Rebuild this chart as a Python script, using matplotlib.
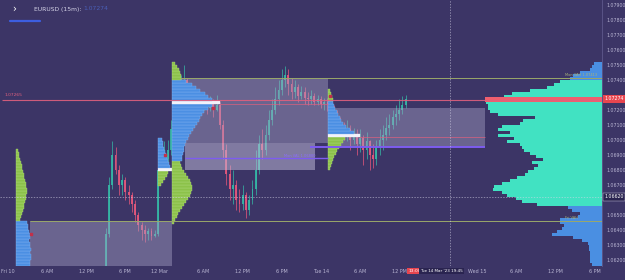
import numpy as np
import matplotlib.pyplot as plt
from matplotlib.patches import Rectangle

# 30-minute bars, hours counted from Fri 10 00:00 (weekend gap removed)
bar_hours = np.arange(15.0, 61.01, 0.5)
first_open = 1.0613
closes = [1.0637, 1.0670, 1.0690, 1.0680, 1.0670, 1.0673, 1.0665, 1.0663, 1.0657, 1.0650,
          1.0643, 1.0640, 1.0637, 1.0639, 1.0636, 1.0637,
          1.0680, 1.0683, 1.0687, 1.0693, 1.0707, 1.0720, 1.0727, 1.0733, 1.0740, 1.0730,
          1.0727, 1.0725, 1.0727, 1.0723, 1.0725, 1.0721, 1.0724, 1.0720, 1.0723, 1.0710,
          1.0693, 1.0677, 1.0667, 1.0670, 1.0660, 1.0657, 1.0663, 1.0653, 1.0660, 1.0667,
          1.0680, 1.0697, 1.0693, 1.0703, 1.0713, 1.0720, 1.0727, 1.0733, 1.0740, 1.0743,
          1.0737, 1.0732, 1.0735, 1.0729, 1.0732, 1.0728, 1.0727, 1.0729, 1.0725, 1.0727,
          1.0724, 1.0725,
          1.0723, 1.0720, 1.0717, 1.0710, 1.0707, 1.0703, 1.0707, 1.0700, 1.0703, 1.0697,
          1.0701, 1.0693, 1.0699, 1.0690, 1.0687, 1.0695, 1.0700, 1.0703, 1.0708, 1.0710,
          1.0715, 1.0717, 1.0720, 1.0723, 1.07274]
highs = [1.0641, 1.0675, 1.0699, 1.0695, 1.0683, 1.0677, 1.0675, 1.0670, 1.0665, 1.0660,
         1.0652, 1.0645, 1.0643, 1.0641, 1.0641, 1.0640,
         1.0693, 1.0697, 1.0699, 1.0700, 1.0713, 1.0730, 1.0737, 1.0743, 1.0750, 1.0741,
         1.0733, 1.0730, 1.0732, 1.0729, 1.0729, 1.0728, 1.0729, 1.0727, 1.0730, 1.0725,
         1.0713, 1.0697, 1.0683, 1.0680, 1.0673, 1.0667, 1.0670, 1.0665, 1.0663, 1.0673,
         1.0693, 1.0703, 1.0707, 1.0710, 1.0720, 1.0727, 1.0735, 1.0740, 1.0747, 1.0749,
         1.0747, 1.0741, 1.0740, 1.0737, 1.0736, 1.0735, 1.0732, 1.0733, 1.0731, 1.0730,
         1.0729, 1.0728,
         1.0728, 1.0727, 1.0723, 1.0720, 1.0715, 1.0712, 1.0713, 1.0710, 1.0708, 1.0707,
         1.0707, 1.0703, 1.0705, 1.0700, 1.0697, 1.0700, 1.0707, 1.0710, 1.0715, 1.0717,
         1.0720, 1.0723, 1.0727, 1.0729, 1.0730]
lows = [1.0613, 1.0635, 1.0667, 1.0677, 1.0663, 1.0663, 1.0660, 1.0657, 1.0652, 1.0645,
        1.0639, 1.0633, 1.0632, 1.0633, 1.0633, 1.0635,
        1.0636, 1.0675, 1.0679, 1.0683, 1.0690, 1.0703, 1.0717, 1.0723, 1.0730, 1.0727,
        1.0721, 1.0720, 1.0721, 1.0719, 1.0720, 1.0717, 1.0719, 1.0715, 1.0719, 1.0707,
        1.0687, 1.0670, 1.0660, 1.0657, 1.0653, 1.0652, 1.0653, 1.0648, 1.0650, 1.0657,
        1.0663, 1.0677, 1.0687, 1.0690, 1.0700, 1.0710, 1.0717, 1.0723, 1.0730, 1.0735,
        1.0730, 1.0727, 1.0728, 1.0725, 1.0727, 1.0724, 1.0723, 1.0724, 1.0723, 1.0723,
        1.0721, 1.0720,
        1.0719, 1.0715, 1.0710, 1.0705, 1.0701, 1.0700, 1.0699, 1.0693, 1.0697, 1.0690,
        1.0692, 1.0683, 1.0687, 1.0680, 1.0681, 1.0683, 1.0690, 1.0693, 1.0700, 1.0703,
        1.0707, 1.0710, 1.0713, 1.0717, 1.0721]

# session volume profiles (price rows of 0.0002)
BIN = 0.0002
fri_start, fri_base = 1.2, 1.0617
fri_vols = [14, 14, 15, 15, 14, 15, 14, 14, 13, 14, 14, 13, 12, 12, 11,
            4, 5, 6, 7, 8, 8, 9, 10, 10, 11, 11, 10, 10, 9, 8, 8, 7, 6, 6, 5, 4, 3, 3, 2]
fri_va, fri_poc = (0, 14), None

sun_start, sun_base = 23.0, 1.0670
sun_vols = [3, 5, 7, 9, 10, 14, 12, 11, 10, 9, 8, 7, 6, 5, 5, 4]
sun_va, sun_poc = (5, 15), 5

mon_start, mon_base = 25.15, 1.0645
mon_vols = [2, 3, 5, 6, 8, 10, 12, 14, 16, 18, 19, 20, 20, 19, 18, 16, 14, 12, 10, 9, 8,
            10, 10, 11, 12, 12, 13, 14, 16, 17, 19, 21, 23, 25, 27, 28, 30, 32, 36, 40, 48,
            40, 36, 33, 28, 24, 20, 14,
            9, 9, 8, 7, 5, 3]
mon_va, mon_poc = (21, 47), 40

tue_start, tue_base = 49.1, 1.0681
tue_vols = [2, 3, 4, 5, 6, 8, 9, 11, 13, 15, 17, 32, 26, 22, 18, 15, 13, 12, 10, 9, 7, 6, 5,
            5, 4, 3, 2]
tue_va, tue_poc = (11, 22), 11

# composite profile, anchored on the price axis
comp_base = 1.0617
comp_vols = [10, 12, 12, 12, 12, 13, 13, 14, 20, 29, 50, 45, 40, 38, 42, 42, 24, 22, 30, 34,
             65, 80, 86, 95, 100, 109, 108, 100, 92, 85, 77, 74, 68, 64, 70, 59, 66, 72, 78, 80,
             82, 95, 88, 104, 92, 104, 100, 82, 79, 67, 104, 112, 114, 114, 116, 117, 98, 90, 72, 55,
             48, 42,
             32, 29, 22, 12, 10, 8]
comp_va, comp_poc = (20, 61), 55

# levels
last_price = 1.07274
red_level = 1.07265
fri_vah = 1.0646
mon_vah, mon_box_low = 1.07413, 1.0698
ib_low, ib_high = 1.0680, 1.0698
mon_val = 1.0688
mon_poc_price = 1.0724
tue_box_low, tue_box_high = 1.06953, 1.07213
tue_poc_price = 1.0702
cross_price, cross_hour = 1.06620, 67.75

tick_hours = [0, 6, 12, 18, 23.3, 30, 36, 42, 48, 54, 60, 72, 78, 84, 90]
tick_labels = ['Fri 10', '6 AM', '12 PM', '6 PM', '12 Mar', '6 AM', '12 PM', '6 PM',
               'Tue 14', '6 AM', '12 PM', 'Wed 15', '6 AM', '12 PM', '6 PM']
price_ticks = [1.062, 1.063, 1.064, 1.065, 1.067, 1.068, 1.069, 1.070, 1.071, 1.072,
               1.074, 1.075, 1.076, 1.077, 1.078, 1.079]

BG = '#3c3566'
TXT = '#b9b5d3'
UP, DOWN = '#35b8a6', '#e8587c'
BLUE, GREEN, WHITE = '#4b8fe3', '#8cc24a', '#f2f2fa'
CYAN, CBLUE, RED = '#41e2c2', '#4a8fe2', '#ef5f6e'
VOL_H = 1 / 6.52

fig = plt.figure(figsize=(6.25, 2.8), dpi=100, facecolor=BG)
ax = fig.add_axes([0, 0.05, 0.963, 0.95])
ax.set_facecolor(BG)
ax.set_xlim(-1.23, 91.1)
ax.set_ylim(1.0616, 1.07933)

# candles
opens = np.array([first_open] + closes[:-1])
closes_a = np.array(closes)
cols = [UP if c >= o else DOWN for o, c in zip(opens, closes_a)]
ax.vlines(bar_hours, lows, highs, colors=cols, lw=0.6, alpha=0.85, zorder=2)
ax.bar(bar_hours, np.maximum(np.abs(closes_a - opens), 0.00003), bottom=np.minimum(opens, closes_a),
       width=0.28, color=cols, alpha=0.9, zorder=2)

# value area boxes
box = dict(facecolor='#aaa6c8', alpha=0.42, edgecolor='none', zorder=3)
ax.add_patch(Rectangle((3.4, 1.0610), 25.2 - 3.4, fri_vah - 1.0610, **box))
ax.add_patch(Rectangle((26.4, mon_box_low), 49.1 - 26.4, mon_vah - mon_box_low, **box))
ax.add_patch(Rectangle((27.1, ib_low), 47.1 - 27.1, ib_high - ib_low,
                       facecolor='#c4c0dc', alpha=0.5, edgecolor='none', zorder=3))
ax.add_patch(Rectangle((49.1, tue_box_low), 73.2 - 49.1, tue_box_high - tue_box_low, **box))


def draw_profile(start, base, vols, va, poc):
    prices = base + BIN * np.arange(len(vols))
    fc, ec = [], []
    for i in range(len(vols)):
        if poc is not None and i == poc:
            fc.append(WHITE); ec.append(WHITE)
        elif va[0] <= i <= va[1]:
            fc.append(BLUE); ec.append('#86b6f2')
        else:
            fc.append(GREEN); ec.append('#b2da80')
    ax.barh(prices, np.array(vols) * VOL_H, height=BIN, left=start, color=fc,
            edgecolor=ec, linewidth=0.25, zorder=4)


draw_profile(fri_start, fri_base, fri_vols, fri_va, fri_poc)
draw_profile(sun_start, sun_base, sun_vols, sun_va, sun_poc)
draw_profile(mon_start, mon_base, mon_vols, mon_va, mon_poc)
draw_profile(tue_start, tue_base, tue_vols, tue_va, tue_poc)

# small markers on profiles
ax.scatter([3.5, 24.1, 31.4, 49.4], [1.0637, 1.0690, 1.0721, 1.0729], marker='s', s=3,
           color='#c0304a', zorder=5)

# composite profile on the right
axc = ax.inset_axes([0, 0, 1, 1], sharey=ax)
axc.axis('off')
axc.patch.set_alpha(0)
axc.set_xlim(comp_vols[comp_poc] / 0.195, 0)
cprices = comp_base + BIN * np.arange(len(comp_vols))
ccols = [RED if i == comp_poc else (CYAN if comp_va[0] <= i <= comp_va[1] else CBLUE)
         for i in range(len(comp_vols))]
axc.barh(cprices, comp_vols, height=BIN * 0.78, color=ccols, edgecolor='none')
axc.barh([cprices[comp_poc]], [comp_vols[comp_poc]], height=BIN * 1.5, color=RED)
axc.set_zorder(5)

# levels
ax.hlines(red_level, -0.9, 91.1, color='#e0607e', lw=0.8, alpha=0.9, zorder=7)
ax.hlines(mon_poc_price, 32.5, 49.1, color='#e0607e', lw=0.6, alpha=0.8, zorder=7)
ax.hlines(tue_poc_price, 53.9, 73.2, color='#e0607e', lw=0.6, alpha=0.8, zorder=7)
ax.hlines(mon_vah, 26.4, 91.1, color='#9aa86a', lw=0.7, zorder=7)
ax.hlines(fri_vah, 3.4, 91.1, color='#9aa86a', lw=0.7, zorder=7)
ax.hlines(mon_val, 27.1, 49.1, color='#7d5cf0', lw=1.0, zorder=7)
ax.hlines(tue_box_low, 46.3, 73.2, color='#7d5cf0', lw=1.4, zorder=7)
ax.axhline(cross_price, color='#d8d6ea', lw=0.5, ls=(0, (2, 2)), alpha=0.7, zorder=8)
ax.axvline(cross_hour, color='#d8d6ea', lw=0.5, ls=(0, (2, 2)), alpha=0.7, zorder=8)

ax.text(-0.5, red_level + 0.00025, '1.07265', color='#e0607e', fontsize=3.2, zorder=8)
ax.text(85.5, mon_vah + 0.00012, 'Mon VAH 1.07413', color='#a8b47a', fontsize=2.6, zorder=8)
ax.text(85.5, fri_vah + 0.00012, 'Fri VAH', color='#a8b47a', fontsize=2.6, zorder=8)
ax.text(42.3, mon_val + 0.00008, 'Mon VAL 1.06880', color='#8a6cff', fontsize=2.6, zorder=8)

# axes styling
for s in ['top', 'left', 'bottom']:
    ax.spines[s].set_visible(False)
ax.spines['right'].set_color('#5e588c')
ax.spines['right'].set_linewidth(0.6)
ax.yaxis.tick_right()
ax.set_yticks(price_ticks)
ax.set_yticklabels(['%.5f' % p for p in price_ticks])
ax.set_xticks(tick_hours)
ax.set_xticklabels(tick_labels)
ax.tick_params(axis='y', length=0, pad=3, labelsize=3.4, labelcolor=TXT)
ax.tick_params(axis='x', length=0, pad=2.5, labelsize=3.5, labelcolor=TXT)

ytr = ax.get_yaxis_transform()
xtr = ax.get_xaxis_transform()
ax.text(1.004, last_price, '1.07274', transform=ytr, fontsize=3.4, color='white', va='center',
        bbox=dict(boxstyle='square,pad=0.25', fc='#e8454f', ec='none'), clip_on=False, zorder=9)
ax.text(1.004, cross_price, '1.06620', transform=ytr, fontsize=3.4, color='white', va='center',
        bbox=dict(boxstyle='square,pad=0.25', fc='#2a2450', ec='#d8d6ea', lw=0.3),
        clip_on=False, zorder=9)
ax.text(62.4, -0.019, '13:00', transform=xtr, fontsize=3.2, color='white', ha='center', va='center',
        bbox=dict(boxstyle='square,pad=0.25', fc='#e8454f', ec='none'), clip_on=False, zorder=9)
ax.text(cross_hour - 1.3, -0.019, "Tue 14 Mar '23 19:45", transform=xtr, fontsize=3.0,
        color='white', ha='center', va='center',
        bbox=dict(boxstyle='square,pad=0.25', fc='#2a2450', ec='none'), clip_on=False, zorder=9)

# header
fig.text(14 / 625, 1 - 9 / 280, '›', color='white', fontsize=7, va='center', ha='center')
fig.text(34 / 625, 1 - 9 / 280, 'EURUSD (15m):', color='#d6d4e8', fontsize=4.3, va='center')
fig.text(83 / 625, 1 - 9 / 280, '1.07274', color='#4a5fb8', fontsize=4.3, va='center')
fig.add_artist(plt.Line2D([10 / 625, 40 / 625], [1 - 21 / 280, 1 - 21 / 280],
                          color='#3d5ee0', lw=1.6, solid_capstyle='round'))

fig.savefig('out.png', dpi=100, facecolor=BG)
